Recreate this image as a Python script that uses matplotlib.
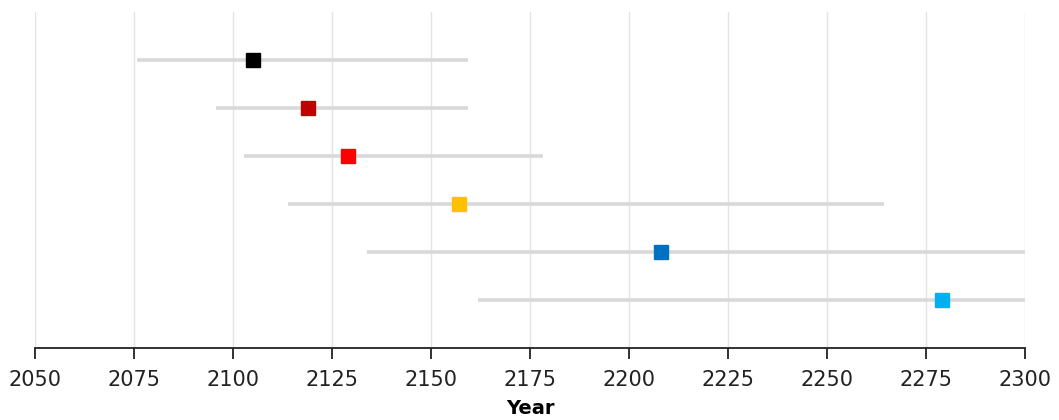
import matplotlib
matplotlib.use("Agg")
import matplotlib.pyplot as plt

# Data
central = [2105, 2119, 2129, 2157, 2208, 2279]
low = [2075.8, 2095.7, 2102.8, 2113.9, 2133.8, 2161.9]
high = [2159.3, 2159.3, 2178.3, 2264.4, 2310, 2310]
colors = ["#000000", "#c00000", "#ff0000", "#ffc000", "#0070c0", "#00b0f0"]
xticks = [2050, 2075, 2100, 2125, 2150, 2175, 2200, 2225, 2250, 2275, 2300]

plt.rcParams['font.family'] = ['DejaVu Sans']

fig = plt.figure(figsize=(10.59, 4.2), dpi=100)
W, H = 1059, 420
ax = fig.add_axes([35 / W, 1 - 348 / H, (1025 - 35) / W, (348 - 12) / H])

rows = list(range(1, len(central) + 1))
for r, c, lo, hi, col in zip(rows, central, low, high, colors):
    ax.plot([lo, hi], [r, r], color="#d9d9d9", lw=2.6, solid_capstyle="butt", zorder=2)
    ax.plot([c], [r], marker="s", ms=10.3, color=col, mec=col, zorder=3, linestyle="none")

ax.set_xlim(2050, 2300)
ax.set_ylim(7, 0)
ax.set_xticks(xticks)
ax.set_xticklabels([str(t) for t in xticks], fontsize=15, color="#222222")
ax.set_yticks([])
ax.grid(axis="x", color="#e3e3e3", lw=1.0, zorder=0)
ax.set_axisbelow(True)
for s in ["top", "right", "left"]:
    ax.spines[s].set_visible(False)
ax.spines["bottom"].set_linewidth(1.3)
ax.spines["bottom"].set_color("#222222")
ax.tick_params(axis="x", length=8, width=1.3, color="#222222", pad=8)
ax.set_xlabel("Year", fontsize=14, fontweight="bold", labelpad=6)

fig.savefig("out.png", dpi=100)
